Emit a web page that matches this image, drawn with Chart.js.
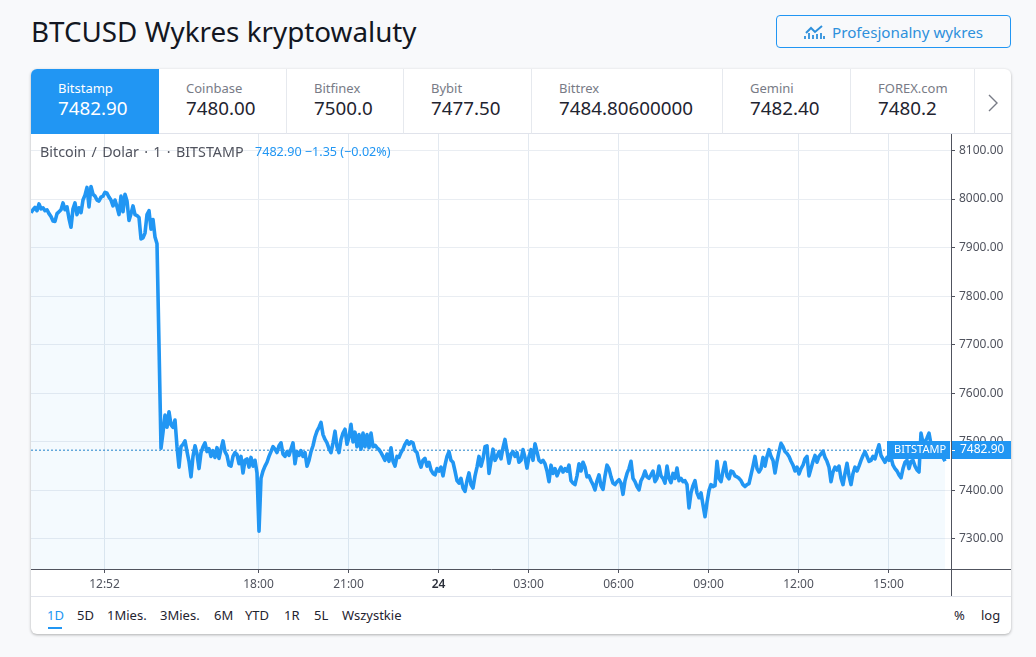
<!DOCTYPE html>
<html lang="pl"><head><meta charset="utf-8">
<script src="https://cdn.jsdelivr.net/npm/chart.js@4"></script>
<style>
html,body{margin:0;padding:0;width:1036px;height:657px;overflow:hidden;background:#f8f9fb;font-family:"Noto Sans",sans-serif;color:#131722}
#title{position:absolute;left:31px;top:11px;font-size:27.8px;line-height:40px;white-space:nowrap}
#btn{position:absolute;left:776px;top:15px;width:233px;height:31px;border:1px solid #2196f3;border-radius:4px;color:#2e90dc;font-size:15.2px;line-height:33px;background:#f8f9fb}
#btn span{position:absolute;left:55px;white-space:nowrap}
#btn svg{position:absolute;left:27px;top:8px}
#card{position:absolute;left:31px;top:69px;width:980px;height:565px;background:#fff;border-radius:6px;box-shadow:0 1px 3px rgba(0,0,0,.3)}
.tab{position:absolute;top:0;height:64px;border-right:1px solid #e6e9ee;border-bottom:1px solid #e0e3eb;box-sizing:content-box}
.tab b{position:absolute;top:11px;font-weight:400;font-size:13px;line-height:17px;color:#787b86;white-space:nowrap}
.tab i{position:absolute;top:26px;font-style:normal;font-size:18.8px;line-height:26px;color:#1f2430;white-space:nowrap}
.tab.on{background:#2196f3;border-right:none;border-bottom-color:#2196f3;border-top-left-radius:6px}
.tab.on b,.tab.on i{color:#fff}
#chev{position:absolute;left:944px;top:0;width:36px;height:64px;border-bottom:1px solid #e0e3eb}
#chart{position:absolute;left:0;top:65px;display:block}
#hd1{position:absolute;left:9px;top:73px;font-size:14.3px;word-spacing:1.6px;line-height:20px;color:#50535e;white-space:nowrap}
#hd2{position:absolute;left:224px;top:74px;font-size:12.6px;line-height:18px;color:#2196f3;white-space:nowrap}
#bar{position:absolute;left:0;top:527px;width:980px;height:38px;border-top:1px solid #e0e3eb}
#bar span{position:absolute;top:8px;font-size:13px;line-height:20px;color:#1f2430;white-space:nowrap}
#bar span.on{color:#2196f3}
#bar u{position:absolute;left:17px;top:30px;width:14px;height:2px;background:#2196f3}
</style></head><body>
<div id="title">BTCUSD Wykres kryptowaluty</div>
<div id="btn"><svg width="22" height="17" viewBox="0 0 22 17"><path d="M2 9 L7 4 L11 8 L18 2" fill="none" stroke="#2e90dc" stroke-width="2"/><path d="M1 15V12M5 15V9M9 15V11M13 15V10M17 15V9M20 15V12" fill="none" stroke="#2e90dc" stroke-width="1.8"/></svg><span>Profesjonalny wykres</span></div>
<div id="card">
<div id="tabs"></div>
<div id="chev"><svg style="position:absolute;left:11px;top:24px" width="14" height="20" viewBox="0 0 14 20"><path d="M3 2 L11 10 L3 18" fill="none" stroke="#787b86" stroke-width="1.4"/></svg></div>
<canvas id="chart" width="980" height="462"></canvas>
<div id="hd1">Bitcoin / Dolar · 1 · BITSTAMP</div>
<div id="hd2">7482.90 −1.35 (−0.02%)</div>
<div id="bar"></div>
</div>
<script>
const exchanges=["Bitstamp","Coinbase","Bitfinex","Bybit","Bittrex","Gemini","FOREX.com"];
const quotes=["7482.90","7480.00","7500.0","7477.50","7484.80600000","7482.40","7480.2"];
const tabEdges=[0,128,256,373,501,692,820,944];
const ranges=["1D","5D","1Mies.","3Mies.","6M","YTD","1R","5L","Wszystkie"];
const rangeLefts=[16,46,76,129,183,214,253,283,311];
const scaleButtons=["%","log"];
const scaleButtonLefts=[923,950];
const lastPrice=7482.9;
const yTicks=[7300,7400,7500,7600,7700,7800,7900,8000,8100];
const xTickMinutes=[772,1080,1260,1440,1620,1800,1980,2160,2340];
const xTickLabels=["12:52","18:00","21:00","24","03:00","06:00","09:00","12:00","15:00"];
const firstMinute=625;
const minuteStep=4;
const prices=[
7972,7978,7983,7976,7990,7980,7982,7976,7978,7970,7964,7955,7954,7970,7974,7978,7992,7978,7984,7960,7942,7980,7992,7968,7982,7972,7998,8008,8024,7984,8026,8010,8006,7998,7996,8004,8006,8014,8012,8004,7998,7986,7998,7984,7968,8006,7974,8010,7996,7956,7970,7986,7968,7966,7962,7918,7920,7930,7968,7976,7938,7958,7922,7908,
7700,7487,
7520,7555,7530,7562,7535,7530,7545,7490,7448,7490,7495,7502,7480,7460,7428,7470,7492,7475,7445,7478,7490,7498,7480,7486,7470,7482,7468,7488,7466,7485,7502,7480,7472,7452,7450,7470,7478,7474,7455,7470,7436,7462,7465,7448,7468,7450,7462,7436,7316,
7425,7440,7450,7458,7470,7480,7490,7485,7478,7492,7498,7475,7470,7480,7472,7485,7498,7455,7480,7472,7482,7470,7478,7450,7462,7480,7492,7510,7522,7530,7540,7515,7505,7498,7486,7478,7498,7522,7490,7478,7505,7518,7526,7495,7510,7536,7500,7520,7490,7515,7485,7518,7490,7515,7488,7518,7490,7493,7488,7484,7478,7470,7462,7475,7460,7488,7460,7450,7470,7468,7478,7485,7495,7502,7495,7500,7498,7482,7478,7460,7448,7462,7466,7450,7458,7442,
7435,7432,7445,7440,7448,7430,7452,7470,7480,7462,7458,7440,7420,7415,7425,7405,7398,7420,7436,7412,7405,7430,7448,7470,7450,7465,7490,7492,7435,7460,7485,7462,7470,7480,7465,7488,7505,7480,7456,7475,7480,7470,7478,7458,7462,7484,7468,7446,7470,7484,7462,7496,7480,7462,7458,7462,7455,7440,7418,7452,7435,7445,7430,7440,7448,7438,7445,7440,7452,7420,7415,7412,7430,7455,7440,7458,7448,7428,7430,7420,7412,7401,7420,7432,7410,7402,7430,7452,7445,7428,7415,7412,7418,7422,7415,7392,7420,7435,7445,7460,7425,7418,7408,7401,7420,7428,7440,7428,7425,7432,7440,7418,7425,7450,7430,7425,7415,7450,7425,7416,7435,7425,7446,7420,7425,7418,7420,7412,7364,7395,7410,7420,7395,7385,7395,7370,7346,7375,7400,7412,7408,7410,7460,
7425,7418,7440,7458,7430,7424,7440,7438,7430,7428,7425,7420,7412,7408,7412,7414,7432,7450,7470,7445,7438,7445,7468,7450,7470,7484,7470,7462,7436,7460,7480,7497,7490,7480,7476,7470,7460,7452,7440,7448,7434,7445,7452,7465,7470,7430,7445,7460,7472,7458,7470,7475,7481,7468,7460,7448,7418,7438,7448,7442,7450,7425,7412,7435,7456,7430,7412,7435,7448,7440,7450,7462,7472,7480,7470,7460,7462,7470,7465,7480,7494,7472,7465,7458,7468,7462,7468,7452,7445,7440,7432,7426,7445,7458,7462,7445,7460,7462,7450,7442,7438,7518,7498,7500,7508,7518,7495,7485,7490,7480,7482,7475,7468,7460
];
const minutes=prices.map((_,i)=>firstMinute+i*minuteStep);

const tabs=document.getElementById('tabs');
exchanges.forEach((n,i)=>{
  const d=document.createElement('div');
  d.className='tab'+(i===0?' on':'');
  d.style.left=tabEdges[i]+'px';
  d.style.width=(tabEdges[i+1]-tabEdges[i]-(i===0?0:1))+'px';
  const b=document.createElement('b'),v=document.createElement('i');
  b.textContent=n;v.textContent=quotes[i];
  b.style.left=v.style.left='27px';
  d.append(b,v);tabs.append(d);
});
const bar=document.getElementById('bar');
ranges.forEach((r,i)=>{const s=document.createElement('span');s.textContent=r;s.style.left=rangeLefts[i]+'px';if(i===0)s.className='on';bar.append(s);});
scaleButtons.forEach((r,i)=>{const s=document.createElement('span');s.textContent=r;s.style.left=scaleButtonLefts[i]+'px';bar.append(s);});
bar.append(document.createElement('u'));

const AXIS='#50535e',GRID='#e9edf2',BLUE='#2196f3';
const overlay={id:'overlay',afterDraw(c){
  const g=c.ctx,a=c.chartArea,y=Math.round(c.scales.y.getPixelForValue(lastPrice));
  g.save();
  g.strokeStyle=AXIS;g.lineWidth=1;
  g.beginPath();g.moveTo(a.right,a.bottom+.5);g.lineTo(c.width,a.bottom+.5);
  g.moveTo(a.right+.5,a.bottom);g.lineTo(a.right+.5,c.height);g.stroke();
  g.fillStyle=BLUE;
  g.fillRect(856,y-9,63,18);
  g.fillRect(921,y-9,59,18);
  g.fillStyle='#fff';
  g.fillRect(921,y,3,1);
  g.textBaseline='middle';g.textAlign='left';
  g.font='11px "Noto Sans"';
  g.fillText('BITSTAMP',863,y);
  g.font='12px "Noto Sans"';
  g.fillText(lastPrice.toFixed(2),929,y);
  g.restore();
}};
new Chart(document.getElementById('chart'),{
  type:'line',
  data:{datasets:[
    {label:'BTCUSD',order:1,data:minutes.map((m,i)=>({x:m,y:prices[i]})),borderColor:BLUE,borderWidth:3.6,borderJoinStyle:'round',tension:0,pointRadius:0,fill:'start',backgroundColor:'rgba(33,150,243,0.05)'},
    {label:'last',order:2,data:[{x:firstMinute,y:lastPrice},{x:2465,y:lastPrice}],borderColor:'#1f80c8',borderWidth:1,borderDash:[2,2],pointRadius:0,fill:false}
  ]},
  options:{
    responsive:false,animation:false,devicePixelRatio:1,
    layout:{padding:0},
    plugins:{legend:{display:false},tooltip:{enabled:false},title:{display:false}},
    scales:{
      x:{type:'linear',min:625,max:2465,
        afterBuildTicks(s){s.ticks=xTickMinutes.map(v=>({value:v}));},
        afterFit(s){s.height=27;s.paddingLeft=0;s.paddingRight=0;},
        grid:{color:'#e3e9f0',tickColor:AXIS,tickLength:4,lineWidth:1},
        border:{color:AXIS},
        ticks:{autoSkip:false,maxRotation:0,padding:4,color:c=>xTickLabels[c.index]==='24'?'#2a2e39':AXIS,
          font:c=>({family:'"Noto Sans"',size:12,weight:xTickLabels[c.index]==='24'?'600':'400'}),
          callback(v){const i=xTickMinutes.indexOf(v);return i<0?'':xTickLabels[i];}}
      },
      y:{position:'right',min:7238.2,max:8134,
        afterBuildTicks(s){s.ticks=yTicks.map(v=>({value:v}));},
        afterFit(s){s.width=60;s.paddingTop=0;s.paddingBottom=0;},
        grid:{color:GRID,tickColor:AXIS,tickLength:4,lineWidth:1},
        border:{color:AXIS},
        ticks:{padding:4,color:AXIS,font:{family:'"Noto Sans"',size:12},callback:v=>v.toFixed(2)}
      }
    }
  },
  plugins:[overlay]
});
</script>
</body></html>
